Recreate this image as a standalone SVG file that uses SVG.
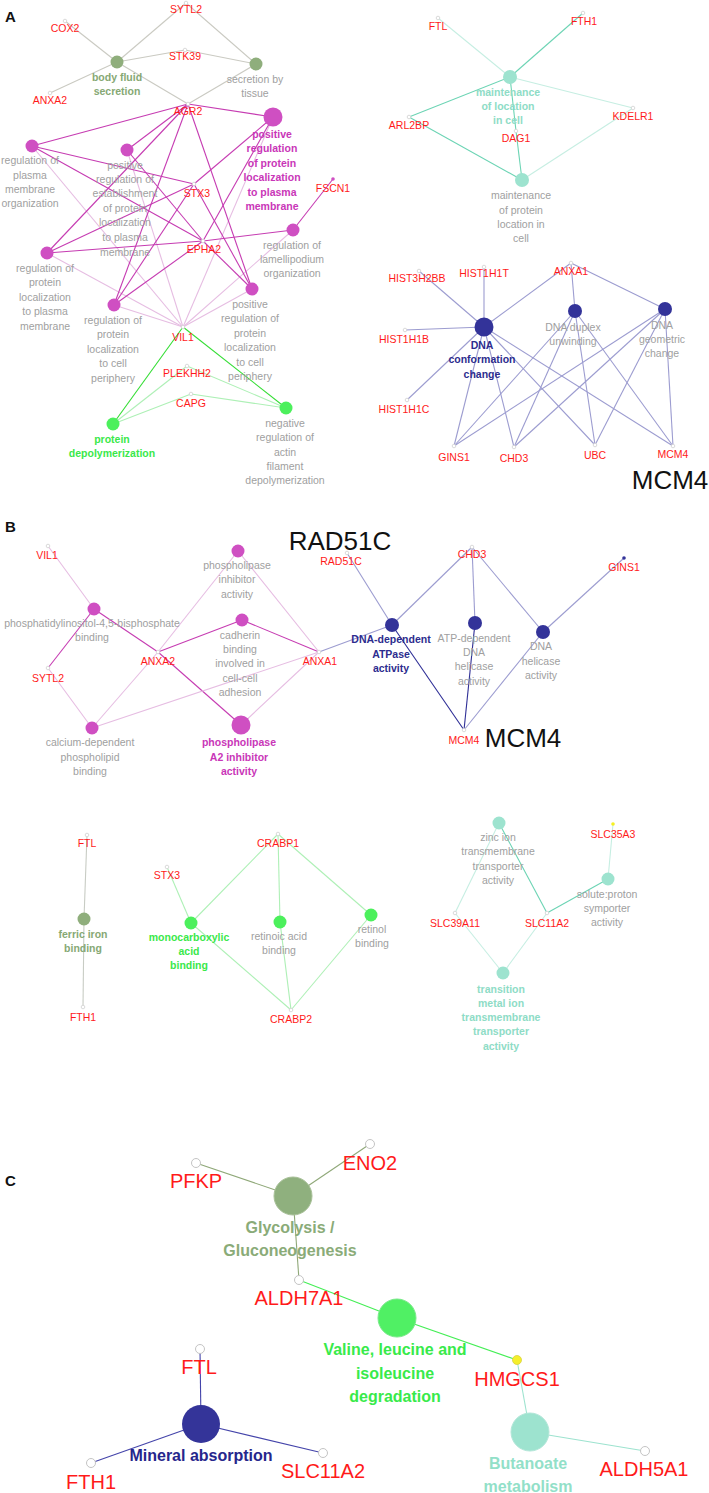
<svg xmlns="http://www.w3.org/2000/svg" width="709" height="1493" viewBox="0 0 709 1493">
<style>
text{font-family:"Liberation Sans",Arial,sans-serif;text-anchor:middle}
.g{font-size:10.5px;fill:#ff1a1a}
.t{font-size:10.5px;fill:#a0a0a0}
.b{font-size:10.5px;font-weight:bold}
.big{font-size:26px;fill:#111}
.pl{font-size:15px;font-weight:bold;fill:#111;text-anchor:start}
.cg{font-size:20px;fill:#ff1a1a}
.ct{font-size:16px;font-weight:bold}
.gn{fill:#fff;stroke:#d0d0d0;stroke-width:0.8}
.cn{fill:#fff;stroke:#c4c4c4;stroke-width:1}
line{stroke-width:1.1;fill:none}
.eo{stroke:#cacac2}
.ems{stroke:#c63cb2}
.eml{stroke:#e6bde2}
.egs{stroke:#33dd33}
.egl{stroke:#aef0b6}
.ets{stroke:#6cd4b4}
.etl{stroke:#c6eee2}
.en{stroke:#9c9cd0}
.ens{stroke:#2e2e96}
.ef{stroke:#c8ccc4}
.cO{stroke:#8fa878}
.cG{stroke:#44ee55}
.cT{stroke:#9de3cf}
.cN{stroke:#4444aa}
.mag{fill:#cf4fc2}
.oli{fill:#8fae7c}
.grn{fill:#4cf05c}
.tea{fill:#9de3cf}
.nav{fill:#333399}
</style>
<g id="connectors">
<line class="eo" x1="117" y1="62" x2="65" y2="21"/>
<line class="eo" x1="117" y1="62" x2="186" y2="3"/>
<line class="eo" x1="117" y1="62" x2="185" y2="50"/>
<line class="eo" x1="117" y1="62" x2="50" y2="93"/>
<line class="eo" x1="117" y1="62" x2="188" y2="104"/>
<line class="eo" x1="256" y1="64" x2="186" y2="3"/>
<line class="eo" x1="256" y1="64" x2="185" y2="50"/>
<line class="eo" x1="256" y1="64" x2="188" y2="104"/>
<line class="eml" x1="183" y1="327" x2="32" y2="146"/>
<line class="eml" x1="183" y1="327" x2="127" y2="150"/>
<line class="eml" x1="183" y1="327" x2="273" y2="117"/>
<line class="eml" x1="183" y1="327" x2="293" y2="230"/>
<line class="eml" x1="183" y1="327" x2="47" y2="253"/>
<line class="eml" x1="183" y1="327" x2="114" y2="305"/>
<line class="eml" x1="183" y1="327" x2="252" y2="289"/>
<line class="ems" x1="188" y1="104" x2="32" y2="146"/>
<line class="ems" x1="188" y1="104" x2="127" y2="150"/>
<line class="ems" x1="188" y1="104" x2="273" y2="117"/>
<line class="ems" x1="188" y1="104" x2="47" y2="253"/>
<line class="ems" x1="188" y1="104" x2="114" y2="305"/>
<line class="ems" x1="188" y1="104" x2="252" y2="289"/>
<line class="ems" x1="194" y1="184" x2="32" y2="146"/>
<line class="ems" x1="194" y1="184" x2="273" y2="117"/>
<line class="ems" x1="194" y1="184" x2="47" y2="253"/>
<line class="ems" x1="194" y1="184" x2="114" y2="305"/>
<line class="ems" x1="194" y1="184" x2="252" y2="289"/>
<line class="ems" x1="203" y1="241" x2="32" y2="146"/>
<line class="ems" x1="203" y1="241" x2="127" y2="150"/>
<line class="ems" x1="203" y1="241" x2="273" y2="117"/>
<line class="ems" x1="203" y1="241" x2="293" y2="230"/>
<line class="ems" x1="203" y1="241" x2="47" y2="253"/>
<line class="ems" x1="203" y1="241" x2="114" y2="305"/>
<line class="ems" x1="203" y1="241" x2="252" y2="289"/>
<line class="ems" x1="333" y1="179" x2="293" y2="230"/>
<line class="egs" x1="183" y1="327" x2="113" y2="424"/>
<line class="egs" x1="183" y1="327" x2="286" y2="408"/>
<line class="egl" x1="187" y1="366" x2="113" y2="424"/>
<line class="egl" x1="187" y1="366" x2="286" y2="408"/>
<line class="egl" x1="191" y1="394" x2="113" y2="424"/>
<line class="egl" x1="191" y1="394" x2="286" y2="408"/>
<line class="etl" x1="510" y1="77" x2="438" y2="18"/>
<line class="ets" x1="510" y1="77" x2="583" y2="13"/>
<line class="ets" x1="510" y1="77" x2="409" y2="117"/>
<line class="etl" x1="510" y1="77" x2="633" y2="108"/>
<line class="ets" x1="510" y1="77" x2="516" y2="131"/>
<line class="ets" x1="522" y1="180" x2="409" y2="117"/>
<line class="ets" x1="522" y1="180" x2="516" y2="131"/>
<line class="etl" x1="522" y1="180" x2="633" y2="108"/>
<line class="en" x1="484" y1="327" x2="419" y2="271"/>
<line class="en" x1="484" y1="327" x2="484" y2="267"/>
<line class="en" x1="484" y1="327" x2="405" y2="330"/>
<line class="en" x1="484" y1="327" x2="407" y2="400"/>
<line class="en" x1="484" y1="327" x2="571" y2="263"/>
<line class="en" x1="484" y1="327" x2="454" y2="446"/>
<line class="en" x1="484" y1="327" x2="514" y2="447"/>
<line class="en" x1="484" y1="327" x2="595" y2="445"/>
<line class="en" x1="484" y1="327" x2="673" y2="446"/>
<line class="en" x1="575" y1="311" x2="571" y2="263"/>
<line class="en" x1="575" y1="311" x2="454" y2="446"/>
<line class="en" x1="575" y1="311" x2="514" y2="447"/>
<line class="en" x1="575" y1="311" x2="595" y2="445"/>
<line class="en" x1="575" y1="311" x2="673" y2="446"/>
<line class="en" x1="665" y1="309" x2="571" y2="263"/>
<line class="en" x1="665" y1="309" x2="454" y2="446"/>
<line class="en" x1="665" y1="309" x2="514" y2="447"/>
<line class="en" x1="665" y1="309" x2="595" y2="445"/>
<line class="en" x1="665" y1="309" x2="673" y2="446"/>
<line class="eml" x1="94" y1="609" x2="48" y2="546"/>
<line class="ems" x1="94" y1="609" x2="48" y2="668"/>
<line class="ems" x1="94" y1="609" x2="158" y2="652"/>
<line class="ems" x1="158" y1="652" x2="242" y2="620"/>
<line class="ems" x1="158" y1="652" x2="241" y2="725"/>
<line class="ems" x1="319" y1="652" x2="242" y2="620"/>
<line class="eml" x1="158" y1="652" x2="238" y2="551"/>
<line class="eml" x1="158" y1="652" x2="92" y2="728"/>
<line class="eml" x1="319" y1="652" x2="238" y2="551"/>
<line class="eml" x1="319" y1="652" x2="92" y2="728"/>
<line class="eml" x1="319" y1="652" x2="241" y2="725"/>
<line class="eml" x1="48" y1="668" x2="92" y2="728"/>
<line class="en" x1="392" y1="625" x2="347" y2="553"/>
<line class="en" x1="392" y1="625" x2="472" y2="547"/>
<line class="en" x1="392" y1="625" x2="319" y2="652"/>
<line class="en" x1="475" y1="623" x2="472" y2="547"/>
<line class="en" x1="543" y1="632" x2="472" y2="547"/>
<line class="en" x1="543" y1="632" x2="624" y2="558"/>
<line class="en" x1="543" y1="632" x2="464" y2="730"/>
<line class="ens" x1="392" y1="625" x2="464" y2="730"/>
<line class="ens" x1="475" y1="623" x2="464" y2="730"/>
<line class="ef" x1="84" y1="919" x2="87" y2="835"/>
<line class="ef" x1="84" y1="919" x2="83" y2="1007"/>
<line class="egl" x1="191" y1="923" x2="167" y2="867"/>
<line class="egl" x1="191" y1="923" x2="278" y2="834"/>
<line class="egl" x1="191" y1="923" x2="291" y2="1010"/>
<line class="egl" x1="280" y1="922" x2="278" y2="834"/>
<line class="egl" x1="280" y1="922" x2="291" y2="1010"/>
<line class="egl" x1="371" y1="915" x2="278" y2="834"/>
<line class="egl" x1="371" y1="915" x2="291" y2="1010"/>
<line class="etl" x1="499" y1="823" x2="455" y2="913"/>
<line class="ets" x1="499" y1="823" x2="547" y2="913"/>
<line class="ets" x1="608" y1="879" x2="547" y2="913"/>
<line class="etl" x1="608" y1="879" x2="613" y2="824"/>
<line class="etl" x1="503" y1="973" x2="455" y2="913"/>
<line class="etl" x1="503" y1="973" x2="547" y2="913"/>
<line class="cO" x1="293" y1="1196" x2="196" y2="1163"/>
<line class="cO" x1="293" y1="1196" x2="370" y2="1144"/>
<line class="cO" x1="293" y1="1196" x2="299" y2="1280"/>
<line class="cG" x1="397" y1="1318" x2="299" y2="1280"/>
<line class="cG" x1="397" y1="1318" x2="517" y2="1360"/>
<line class="cT" x1="530" y1="1432" x2="517" y2="1360"/>
<line class="cT" x1="530" y1="1432" x2="645" y2="1451"/>
<line class="cN" x1="201" y1="1424" x2="200" y2="1349"/>
<line class="cN" x1="201" y1="1424" x2="91" y2="1463"/>
<line class="cN" x1="201" y1="1424" x2="323" y2="1453"/>
</g>
<g id="panel-labels">
<text class="pl" x="5" y="22">A</text>
<text class="pl" x="5" y="532">B</text>
<text class="pl" x="5" y="1186">C</text>
<text class="big" x="670" y="489">MCM4</text>
<text class="big" x="340" y="550">RAD51C</text>
<text class="big" x="523" y="747">MCM4</text>
</g>
<g id="a-body-fluid-secretion"><circle class="oli" cx="117" cy="62" r="6.5"/><text class="b" fill="#86a874"><tspan x="117" y="81">body fluid</tspan><tspan x="117" y="95">secretion</tspan></text></g>
<g id="a-secretion-by-tissue"><circle class="oli" cx="256" cy="64" r="6.5"/><text class="t"><tspan x="255" y="83">secretion by</tspan><tspan x="255" y="97">tissue</tspan></text></g>
<g id="a-reg-pm-org"><circle class="mag" cx="32" cy="146" r="6.5"/><text class="t"><tspan x="30" y="164">regulation of</tspan><tspan x="30" y="179">plasma</tspan><tspan x="30" y="193">membrane</tspan><tspan x="30" y="207">organization</tspan></text></g>
<g id="a-pos-reg-est"><circle class="mag" cx="127" cy="150" r="6.5"/><text class="t"><tspan x="125" y="169">positive</tspan><tspan x="125" y="183">regulation of</tspan><tspan x="125" y="197">establishment</tspan><tspan x="125" y="212">of protein</tspan><tspan x="125" y="226">localization</tspan><tspan x="125" y="241">to plasma</tspan><tspan x="125" y="256">membrane</tspan></text></g>
<g id="a-pos-reg-pm"><circle class="mag" cx="273" cy="117" r="9.5"/><text class="b" fill="#c936b8"><tspan x="272" y="138">positive</tspan><tspan x="272" y="152">regulation</tspan><tspan x="272" y="167">of protein</tspan><tspan x="272" y="181">localization</tspan><tspan x="272" y="196">to plasma</tspan><tspan x="272" y="210">membrane</tspan></text></g>
<g id="a-reg-lamellipodium"><circle class="mag" cx="293" cy="230" r="6.5"/><text class="t"><tspan x="292" y="249">regulation of</tspan><tspan x="292" y="263">lamellipodium</tspan><tspan x="292" y="277">organization</tspan></text></g>
<g id="a-reg-prot-pm"><circle class="mag" cx="47" cy="253" r="6.5"/><text class="t"><tspan x="45" y="272">regulation of</tspan><tspan x="45" y="286">protein</tspan><tspan x="45" y="301">localization</tspan><tspan x="45" y="315">to plasma</tspan><tspan x="45" y="330">membrane</tspan></text></g>
<g id="a-reg-prot-cp"><circle class="mag" cx="114" cy="305" r="6.5"/><text class="t"><tspan x="113" y="324">regulation of</tspan><tspan x="113" y="338">protein</tspan><tspan x="113" y="353">localization</tspan><tspan x="113" y="367">to cell</tspan><tspan x="113" y="382">periphery</tspan></text></g>
<g id="a-pos-reg-prot-cp"><circle class="mag" cx="252" cy="289" r="6.5"/><text class="t"><tspan x="250" y="308">positive</tspan><tspan x="250" y="322">regulation of</tspan><tspan x="250" y="337">protein</tspan><tspan x="250" y="351">localization</tspan><tspan x="250" y="366">to cell</tspan><tspan x="250" y="380">periphery</tspan></text></g>
<g id="a-protein-depol"><circle class="grn" cx="113" cy="424" r="6.5"/><text class="b" fill="#3ae84a"><tspan x="112" y="443">protein</tspan><tspan x="112" y="457">depolymerization</tspan></text></g>
<g id="a-neg-reg-actin"><circle class="grn" cx="286" cy="408" r="6.5"/><text class="t"><tspan x="285" y="427">negative</tspan><tspan x="285" y="441">regulation of</tspan><tspan x="285" y="456">actin</tspan><tspan x="285" y="470">filament</tspan><tspan x="285" y="484">depolymerization</tspan></text></g>
<g id="a-cox2"><circle class="gn" cx="65" cy="21" r="1.8"/><text class="g" x="65" y="32">COX2</text></g>
<g id="a-sytl2"><circle class="gn" cx="186" cy="3" r="1.8"/><text class="g" x="186" y="13">SYTL2</text></g>
<g id="a-stk39"><circle class="gn" cx="185" cy="50" r="1.8"/><text class="g" x="185" y="60">STK39</text></g>
<g id="a-anxa2"><circle class="gn" cx="50" cy="93" r="1.8"/><text class="g" x="50" y="104">ANXA2</text></g>
<g id="a-agr2"><circle class="gn" cx="188" cy="104" r="1.8"/><text class="g" x="188" y="115">AGR2</text></g>
<g id="a-stx3"><circle class="gn" cx="194" cy="184" r="1.8"/><text class="g" x="197" y="197">STX3</text></g>
<g id="a-epha2"><circle class="gn" cx="203" cy="241" r="1.8"/><text class="g" x="204" y="253">EPHA2</text></g>
<g id="a-fscn1"><circle class="mag" cx="333" cy="179" r="1.8"/><text class="g" x="333" y="192">FSCN1</text></g>
<g id="a-vil1"><circle class="gn" cx="183" cy="327" r="1.8"/><text class="g" x="183" y="341">VIL1</text></g>
<g id="a-plekhh2"><circle class="gn" cx="187" cy="366" r="1.8"/><text class="g" x="187" y="377">PLEKHH2</text></g>
<g id="a-capg"><circle class="gn" cx="191" cy="394" r="1.8"/><text class="g" x="191" y="407">CAPG</text></g>
<g id="a-maint-loc"><circle class="tea" cx="510" cy="77" r="7"/><text class="b" fill="#8edcc6"><tspan x="508" y="96">maintenance</tspan><tspan x="508" y="110">of location</tspan><tspan x="508" y="124">in cell</tspan></text></g>
<g id="a-maint-prot"><circle class="tea" cx="522" cy="180" r="7"/><text class="t"><tspan x="521" y="199">maintenance</tspan><tspan x="521" y="214">of protein</tspan><tspan x="521" y="228">location in</tspan><tspan x="521" y="242">cell</tspan></text></g>
<g id="a-ftl"><circle class="gn" cx="438" cy="18" r="1.8"/><text class="g" x="438" y="30">FTL</text></g>
<g id="a-fth1"><circle class="gn" cx="583" cy="13" r="1.8"/><text class="g" x="584" y="25">FTH1</text></g>
<g id="a-arl2bp"><circle class="gn" cx="409" cy="117" r="1.8"/><text class="g" x="409" y="129">ARL2BP</text></g>
<g id="a-kdelr1"><circle class="gn" cx="633" cy="108" r="1.8"/><text class="g" x="633" y="120">KDELR1</text></g>
<g id="a-dag1"><circle class="gn" cx="516" cy="131" r="1.8"/><text class="g" x="516" y="142">DAG1</text></g>
<g id="a-dna-conf"><circle class="nav" cx="484" cy="327" r="9.5"/><text class="b" fill="#2c2c8e"><tspan x="482" y="349">DNA</tspan><tspan x="482" y="363">conformation</tspan><tspan x="482" y="378">change</tspan></text></g>
<g id="a-dna-duplex"><circle class="nav" cx="575" cy="311" r="7"/><text class="t"><tspan x="573" y="331">DNA duplex</tspan><tspan x="573" y="345">unwinding</tspan></text></g>
<g id="a-dna-geom"><circle class="nav" cx="665" cy="309" r="7"/><text class="t"><tspan x="662" y="329">DNA</tspan><tspan x="662" y="343">geometric</tspan><tspan x="662" y="357">change</tspan></text></g>
<g id="a-hist3h2bb"><circle class="gn" cx="419" cy="271" r="1.8"/><text class="g" x="417" y="282">HIST3H2BB</text></g>
<g id="a-hist1h1t"><circle class="gn" cx="484" cy="267" r="1.8"/><text class="g" x="484" y="277">HIST1H1T</text></g>
<g id="a-anxa1"><circle class="gn" cx="571" cy="263" r="1.8"/><text class="g" x="571" y="275">ANXA1</text></g>
<g id="a-hist1h1b"><circle class="gn" cx="405" cy="330" r="1.8"/><text class="g" x="404" y="343">HIST1H1B</text></g>
<g id="a-hist1h1c"><circle class="gn" cx="407" cy="400" r="1.8"/><text class="g" x="404" y="413">HIST1H1C</text></g>
<g id="a-gins1"><circle class="gn" cx="454" cy="446" r="1.8"/><text class="g" x="454" y="461">GINS1</text></g>
<g id="a-chd3"><circle class="gn" cx="514" cy="447" r="1.8"/><text class="g" x="514" y="462">CHD3</text></g>
<g id="a-ubc"><circle class="gn" cx="595" cy="445" r="1.8"/><text class="g" x="595" y="459">UBC</text></g>
<g id="a-mcm4"><circle class="gn" cx="673" cy="446" r="1.8"/><text class="g" x="673" y="458">MCM4</text></g>
<g id="b-pip2"><circle class="mag" cx="94" cy="609" r="6.5"/><text class="t"><tspan x="92" y="627">phosphatidylinositol-4,5-bisphosphate</tspan><tspan x="92" y="641">binding</tspan></text></g>
<g id="b-pl-inhib"><circle class="mag" cx="238" cy="551" r="6.5"/><text class="t"><tspan x="237" y="569">phospholipase</tspan><tspan x="237" y="583">inhibitor</tspan><tspan x="237" y="598">activity</tspan></text></g>
<g id="b-cadherin"><circle class="mag" cx="242" cy="620" r="6.5"/><text class="t"><tspan x="240" y="639">cadherin</tspan><tspan x="240" y="653">binding</tspan><tspan x="240" y="667">involved in</tspan><tspan x="240" y="682">cell-cell</tspan><tspan x="240" y="696">adhesion</tspan></text></g>
<g id="b-calcium"><circle class="mag" cx="92" cy="728" r="6.5"/><text class="t"><tspan x="90" y="746">calcium-dependent</tspan><tspan x="90" y="761">phospholipid</tspan><tspan x="90" y="775">binding</tspan></text></g>
<g id="b-pla2"><circle class="mag" cx="241" cy="725" r="9.5"/><text class="b" fill="#c936b8"><tspan x="239" y="746">phospholipase</tspan><tspan x="239" y="761">A2 inhibitor</tspan><tspan x="239" y="775">activity</tspan></text></g>
<g id="b-atpase"><circle class="nav" cx="392" cy="625" r="7"/><text class="b" fill="#2c2c8e"><tspan x="391" y="643">DNA-dependent</tspan><tspan x="391" y="658">ATPase</tspan><tspan x="391" y="672">activity</tspan></text></g>
<g id="b-atp-helicase"><circle class="nav" cx="475" cy="623" r="7"/><text class="t"><tspan x="474" y="642">ATP-dependent</tspan><tspan x="474" y="656">DNA</tspan><tspan x="474" y="670">helicase</tspan><tspan x="474" y="685">activity</tspan></text></g>
<g id="b-dna-helicase"><circle class="nav" cx="543" cy="632" r="7"/><text class="t"><tspan x="541" y="650">DNA</tspan><tspan x="541" y="665">helicase</tspan><tspan x="541" y="679">activity</tspan></text></g>
<g id="b-vil1"><circle class="gn" cx="48" cy="546" r="1.8"/><text class="g" x="47" y="559">VIL1</text></g>
<g id="b-sytl2"><circle class="gn" cx="48" cy="668" r="1.8"/><text class="g" x="48" y="682">SYTL2</text></g>
<g id="b-anxa2"><circle class="gn" cx="158" cy="652" r="1.8"/><text class="g" x="158" y="665">ANXA2</text></g>
<g id="b-anxa1"><circle class="gn" cx="319" cy="652" r="1.8"/><text class="g" x="320" y="665">ANXA1</text></g>
<g id="b-rad51c"><circle class="gn" cx="347" cy="553" r="1.8"/><text class="g" x="341" y="565">RAD51C</text></g>
<g id="b-chd3"><circle class="gn" cx="472" cy="547" r="1.8"/><text class="g" x="472" y="558">CHD3</text></g>
<g id="b-gins1"><circle class="nav" cx="624" cy="558" r="1.8"/><text class="g" x="624" y="571">GINS1</text></g>
<g id="b-mcm4"><circle class="gn" cx="464" cy="730" r="1.8"/><text class="g" x="464" y="744">MCM4</text></g>
<g id="b-ferric"><circle class="oli" cx="84" cy="919" r="6.5"/><text class="b" fill="#86a874"><tspan x="83" y="938">ferric iron</tspan><tspan x="83" y="952">binding</tspan></text></g>
<g id="b-mono"><circle class="grn" cx="191" cy="923" r="6.5"/><text class="b" fill="#3ae84a"><tspan x="189" y="941">monocarboxylic</tspan><tspan x="189" y="955">acid</tspan><tspan x="189" y="969">binding</tspan></text></g>
<g id="b-retinoic"><circle class="grn" cx="280" cy="922" r="6.5"/><text class="t"><tspan x="279" y="940">retinoic acid</tspan><tspan x="279" y="954">binding</tspan></text></g>
<g id="b-retinol"><circle class="grn" cx="371" cy="915" r="6.5"/><text class="t"><tspan x="372" y="933">retinol</tspan><tspan x="372" y="947">binding</tspan></text></g>
<g id="b-zinc"><circle class="tea" cx="499" cy="823" r="6.5"/><text class="t"><tspan x="498" y="841">zinc ion</tspan><tspan x="498" y="855">transmembrane</tspan><tspan x="498" y="870">transporter</tspan><tspan x="498" y="884">activity</tspan></text></g>
<g id="b-solute"><circle class="tea" cx="608" cy="879" r="6.5"/><text class="t"><tspan x="607" y="898">solute:proton</tspan><tspan x="607" y="912">symporter</tspan><tspan x="607" y="926">activity</tspan></text></g>
<g id="b-transition"><circle class="tea" cx="503" cy="973" r="6.5"/><text class="b" fill="#8edcc6"><tspan x="501" y="993">transition</tspan><tspan x="501" y="1007">metal ion</tspan><tspan x="501" y="1021">transmembrane</tspan><tspan x="501" y="1035">transporter</tspan><tspan x="501" y="1050">activity</tspan></text></g>
<g id="b-ftl"><circle class="gn" cx="87" cy="835" r="1.8"/><text class="g" x="87" y="847">FTL</text></g>
<g id="b-fth1"><circle class="gn" cx="83" cy="1007" r="1.8"/><text class="g" x="83" y="1021">FTH1</text></g>
<g id="b-stx3"><circle class="gn" cx="167" cy="867" r="1.8"/><text class="g" x="167" y="879">STX3</text></g>
<g id="b-crabp1"><circle class="gn" cx="278" cy="834" r="1.8"/><text class="g" x="278" y="847">CRABP1</text></g>
<g id="b-crabp2"><circle class="gn" cx="291" cy="1010" r="1.8"/><text class="g" x="291" y="1023">CRABP2</text></g>
<g id="b-slc35a3"><circle fill="#f5f020" cx="613" cy="824" r="1.8"/><text class="g" x="613" y="838">SLC35A3</text></g>
<g id="b-slc39a11"><circle class="gn" cx="455" cy="913" r="1.8"/><text class="g" x="455" y="927">SLC39A11</text></g>
<g id="b-slc11a2"><circle class="gn" cx="547" cy="913" r="1.8"/><text class="g" x="547" y="927">SLC11A2</text></g>
<g id="c-glycolysis"><circle fill="#8fb07e" stroke="#a8c098" cx="293" cy="1196" r="19"/><text class="ct" fill="#8aab78"><tspan x="290" y="1233">Glycolysis /</tspan><tspan x="290" y="1256">Gluconeogenesis</tspan></text></g>
<g id="c-valine"><circle fill="#50f064" stroke="#7ae88a" cx="397" cy="1318" r="19"/><text class="ct" fill="#38ea4a"><tspan x="395" y="1355">Valine, leucine and</tspan><tspan x="395" y="1379">isoleucine</tspan><tspan x="395" y="1402">degradation</tspan></text></g>
<g id="c-butanoate"><circle fill="#9de3cf" stroke="#b2e6d8" cx="530" cy="1432" r="19"/><text class="ct" fill="#92e0c8"><tspan x="528" y="1469">Butanoate</tspan><tspan x="528" y="1492">metabolism</tspan></text></g>
<g id="c-mineral"><circle fill="#343499" cx="201" cy="1424" r="19"/><text class="ct" fill="#26268c" x="201" y="1461">Mineral absorption</text></g>
<g id="c-pfkp"><circle class="cn" cx="196" cy="1163" r="4.5"/><text class="cg" x="196" y="1188">PFKP</text></g>
<g id="c-eno2"><circle class="cn" cx="370" cy="1144" r="4.5"/><text class="cg" x="370" y="1170">ENO2</text></g>
<g id="c-aldh7a1"><circle class="cn" cx="299" cy="1280" r="4.5"/><text class="cg" x="299" y="1305">ALDH7A1</text></g>
<g id="c-hmgcs1"><circle fill="#f5ef2a" stroke="#d8d040" stroke-width="0.8" cx="517" cy="1360" r="4.5"/><text class="cg" x="517" y="1386">HMGCS1</text></g>
<g id="c-aldh5a1"><circle class="cn" cx="645" cy="1451" r="4.5"/><text class="cg" x="644" y="1476">ALDH5A1</text></g>
<g id="c-ftl"><circle class="cn" cx="200" cy="1349" r="4.5"/><text class="cg" x="199" y="1374">FTL</text></g>
<g id="c-fth1"><circle class="cn" cx="91" cy="1463" r="4.5"/><text class="cg" x="91" y="1489">FTH1</text></g>
<g id="c-slc11a2"><circle class="cn" cx="323" cy="1453" r="4.5"/><text class="cg" x="323" y="1478">SLC11A2</text></g>
</svg>
